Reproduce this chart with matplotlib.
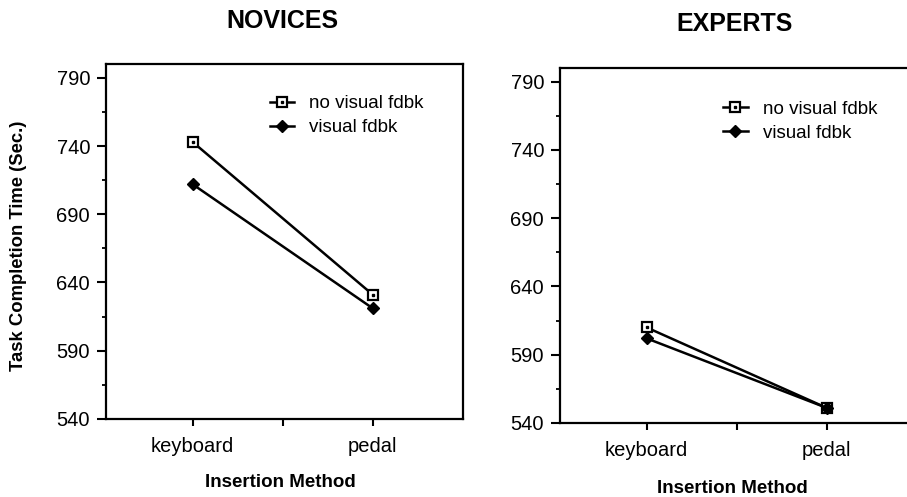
import matplotlib
matplotlib.use("Agg")
import matplotlib.pyplot as plt

# --data
methods = ["keyboard", "pedal"]
novice_no_fdbk = [743, 631]
novice_fdbk = [712, 621]
expert_no_fdbk = [610, 551]
expert_fdbk = [602, 551]
yticks = [540, 590, 640, 690, 740, 790]

plt.rcParams["font.family"] = ["Liberation Sans", "DejaVu Sans"]
plt.rcParams["font.size"] = 13

fig = plt.figure(figsize=(9.07, 4.97), dpi=100)
ax1 = fig.add_axes([0.1169, 0.157, 0.3936, 0.714])
ax2 = fig.add_axes([0.6174, 0.149, 0.3936, 0.714])


def draw_panel(ax, no_fdbk, fdbk, leg_xy):
	x = [1, 2]
	l1, = ax.plot(x, no_fdbk, color="black", lw=1.8, marker="s", ms=7,
		mfc="white", mec="black", mew=1.6, label="no visual fdbk")
	d1, = ax.plot(x, no_fdbk, ls="none", marker="s", ms=1.6, color="black")
	l2, = ax.plot(x, fdbk, color="black", lw=1.8, marker="D", ms=6.5,
		mfc="black", mec="black", label="visual fdbk")
	ax.set_xlim(0.52, 2.5)
	ax.set_ylim(540, 800)
	ax.set_xticks([1, 2])
	ax.set_xticklabels(methods, fontsize=14.5)
	ax.set_xticks([1.5], minor=True)
	ax.set_yticks(yticks)
	ax.set_yticklabels([str(v) for v in yticks], fontsize=14.5)
	# one small tick half way between the labelled ones
	ax.set_yticks([v + 25 for v in yticks[:-1]], minor=True)
	ax.tick_params(axis="y", which="major", direction="out", length=6.5, width=1.5, pad=5)
	ax.tick_params(axis="y", which="minor", direction="out", length=3, width=1.3)
	ax.tick_params(axis="x", which="both", direction="out", length=5, width=1.5, pad=8)
	for s in ax.spines.values():
		s.set_linewidth(1.6)
	ax.legend([(l1, d1), l2], ["no visual fdbk", "visual fdbk"], loc="upper left",
		bbox_to_anchor=leg_xy, frameon=False, borderpad=0, borderaxespad=0,
		fontsize=13.5, handlelength=1.3, handletextpad=0.8, labelspacing=0.35)


draw_panel(ax1, novice_no_fdbk, novice_fdbk, (0.458, 0.912))
draw_panel(ax2, expert_no_fdbk, expert_fdbk, (0.457, 0.908))

fig.text(0.311, 0.958, "NOVICES", ha="center", va="center", fontsize=18, fontweight="bold")
fig.text(0.810, 0.952, "EXPERTS", ha="center", va="center", fontsize=18, fontweight="bold")
fig.text(0.309, 0.030, "Insertion Method", ha="center", va="center", fontsize=13.5, fontweight="bold")
fig.text(0.807, 0.018, "Insertion Method", ha="center", va="center", fontsize=13.5, fontweight="bold")
fig.text(0.02, 0.505, "Task Completion Time (Sec.)", ha="center", va="center",
	rotation=90, fontweight="bold", fontsize=13.3)

plt.savefig("out.png", dpi=100)
